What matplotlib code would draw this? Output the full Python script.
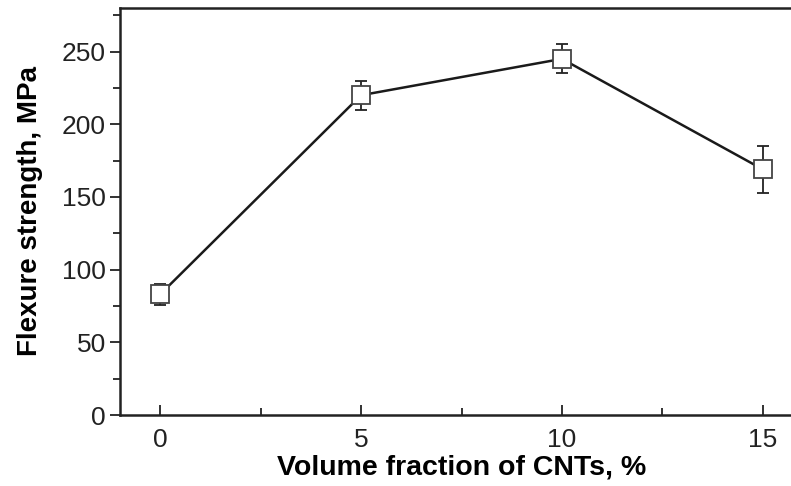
import matplotlib.pyplot as plt

# data
cnt_fraction = [0, 5, 10, 15]
strength = [83, 220, 245, 169]
strength_err = [7, 10, 10, 16]

x_ticks = [0, 5, 10, 15]
y_ticks = [0, 50, 100, 150, 200, 250]

plt.rcParams["font.family"] = ["Liberation Sans", "DejaVu Sans"]

fig = plt.figure(figsize=(7.91, 4.86), dpi=100)
ax = fig.add_axes([120 / 791, 71 / 486, 683 / 791, 407 / 486])

ax.errorbar(cnt_fraction, strength, yerr=strength_err,
            color="#1a1a1a", lw=1.8, marker="s", ms=13,
            mfc="white", mec="#444444", mew=1.3,
            ecolor="#222222", elinewidth=1.3, capsize=4, capthick=1.8)

ax.set_xlim(-1, 16)
ax.set_ylim(0, 280)
ax.set_xticks(x_ticks)
ax.set_xticks([2.5, 7.5, 12.5], minor=True)
ax.set_yticks(y_ticks)
ax.set_yticks([25, 75, 125, 175, 225, 275], minor=True)

ax.tick_params(axis="x", which="both", direction="in", labelsize=19,
               colors="#222222", pad=9)
ax.tick_params(axis="x", which="major", length=7, width=1.3)
ax.tick_params(axis="x", which="minor", length=5, width=1.3)
ax.tick_params(axis="y", which="both", direction="out", labelsize=19,
               colors="#222222", pad=3)
ax.tick_params(axis="y", which="major", length=7, width=1.3)
ax.tick_params(axis="y", which="minor", length=5, width=1.3)

for side in ["left", "bottom", "top"]:
    ax.spines[side].set_linewidth(1.8)
    ax.spines[side].set_color("#222222")
ax.spines["right"].set_visible(False)

ax.set_xlabel("Volume fraction of CNTs, %", fontsize=20.5, fontweight="bold",
              labelpad=2)
ax.set_ylabel("Flexure strength, MPa", fontsize=20, fontweight="bold",
              labelpad=14)

plt.savefig("out.png", dpi=100)
